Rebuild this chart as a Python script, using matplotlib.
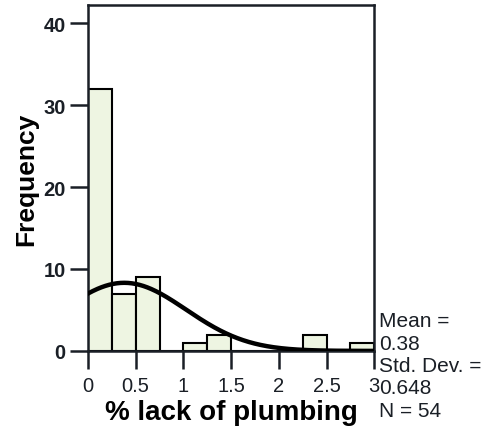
import matplotlib
matplotlib.use("Agg")
import matplotlib.pyplot as plt
import numpy as np

plt.rcParams["font.family"] = ["Liberation Sans", "DejaVu Sans"]

# histogram of % lack of plumbing, bins of 0.25
bin_edges = [0.0, 0.25, 0.5, 0.75, 1.0, 1.25, 1.5, 1.75, 2.0, 2.25, 2.5, 2.75, 3.0]
counts = [32, 7, 9, 0, 1, 2, 0, 0, 0, 2, 0, 1]
mean = 0.38
std_dev = 0.648
n_total = 54
x_ticks = [0, 0.5, 1, 1.5, 2, 2.5, 3]
x_tick_labels = ["0", "0.5", "1", "1.5", "2", "2.5", "3"]
y_ticks = [0, 10, 20, 30, 40]

fig = plt.figure(figsize=(4.86, 4.35), dpi=100)
ax = fig.add_axes([0.181, 0.191, 0.589, 0.795])

edges = np.array(bin_edges)
widths = np.diff(edges)
ax.bar(edges[:-1], counts, width=widths, align="edge",
       facecolor="#eef5e2", edgecolor="black", linewidth=1.5, zorder=2)

# fitted normal curve scaled to counts
xs = np.linspace(0, 3, 300)
pdf = np.exp(-0.5 * ((xs - mean) / std_dev) ** 2) / (std_dev * np.sqrt(2 * np.pi))
ax.plot(xs, pdf * n_total * widths[0], color="black", linewidth=3.2, zorder=3)

ax.set_xlim(0, 3)
ax.set_ylim(0, 42.2)
ax.set_xticks(x_ticks)
ax.set_xticklabels(x_tick_labels)
ax.set_yticks(y_ticks)
for s in ax.spines.values():
    s.set_linewidth(1.8)
    s.set_color("#1a1f26")
ax.tick_params(axis="both", direction="out", length=13, width=1.8, labelsize=14.5,
               colors="#1a1f26")
ax.tick_params(axis="x", pad=5)
ax.tick_params(axis="y", pad=3)
for lbl in ax.get_yticklabels():
    lbl.set_fontweight("bold")

ax.set_xlabel("% lack of plumbing", fontsize=20, fontweight="bold", labelpad=3)
ax.set_ylabel("Frequency", fontsize=19, fontweight="bold", labelpad=4)

stats = ["Mean =", "0.38", "Std. Dev. =", "0.648", "N = 54"]
for i, line in enumerate(stats):
    fig.text(379 / 486, 1 - (322 + 22.3 * i) / 435, line, fontsize=15,
             va="center", ha="left", color="#1a1f26")

fig.savefig("out.png", dpi=100)
